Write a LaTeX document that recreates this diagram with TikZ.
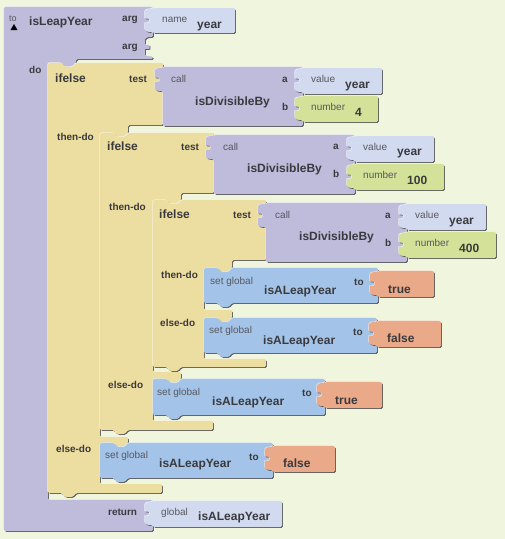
\documentclass[tikz,border=0pt]{standalone}
\usepackage{fontspec}
\setmainfont{Liberation Sans}
\definecolor{bgc}{RGB}{240,245,222}
\definecolor{procc}{RGB}{190,187,219}
\definecolor{yelc}{RGB}{236,221,160}
\definecolor{setc}{RGB}{163,196,232}
\definecolor{varc}{RGB}{209,218,238}
\definecolor{numc}{RGB}{212,225,152}
\definecolor{orc}{RGB}{234,169,136}
\definecolor{txt}{RGB}{58,58,62}
\definecolor{txts}{RGB}{88,88,96}
\newcommand\blk[2]{%
  \fill[black!65,xshift=0.9pt,yshift=-0.9pt,rounded corners=1.5pt] #2;
  \fill[#1!40!white,xshift=-0.6pt,yshift=0.6pt,rounded corners=1.5pt] #2;
  \fill[#1,rounded corners=1.5pt] #2;}
\newcommand\plugP[4]{(#1,#2) -- (#1+#3,#2) -- (#1+#3,#2+#4) -- (#1,#2+#4) -- (#1,#2+24) .. controls (#1-6,#2+24) and (#1-8,#2+23) .. (#1-8,#2+20) -- (#1-8,#2+16.5) .. controls (#1-8,#2+15) and (#1-3.5,#2+15) .. (#1-3.5,#2+12.7) .. controls (#1-3.5,#2+10.5) and (#1-8,#2+10.5) .. (#1-8,#2+9) -- (#1-8,#2+5) .. controls (#1-8,#2+2) and (#1-6,#2+1) .. (#1,#2+1) -- cycle}
\newcommand\stmtP[4]{(#1,#2) -- (#1+14,#2) -- (#1+17,#2+4) -- (#1+25,#2+4) -- (#1+28,#2) -- (#1+#3,#2) -- (#1+#3,#2+#4) -- (#1+28,#2+#4) -- (#1+25,#2+#4+4) -- (#1+17,#2+#4+4) -- (#1+14,#2+#4) -- (#1,#2+#4) -- cycle}
\tikzset{
  lbl/.style={font=\fontsize{10}{10}\selectfont\bfseries, text=txt, inner sep=0pt, anchor=base west},
  sml/.style={font=\fontsize{10}{10}\selectfont, text=txts, inner sep=0pt, anchor=base west},
  big/.style={font=\fontsize{12}{12}\selectfont\bfseries, text=txt, inner sep=0pt, anchor=base west},
}
\begin{document}
\begin{tikzpicture}[x=1pt,y=-1pt]
\fill[bgc] (0,0) rectangle (505,539);
\useasboundingbox (0,0) rectangle (505,539);
% procedure
\blk{procc}{(4,7) -- (153,7) -- (153,37) .. controls (147,37) and (145,38) .. (145,41) -- (145,43.5) .. controls (145,45) and (149.5,45) .. (149.5,47) .. controls (149.5,49) and (145,49) .. (145,50.5) -- (145,53) .. controls (145,56) and (147,56.5) .. (153,56.5) -- (153,59) -- (76,59) -- (76,63) -- (73,67) -- (65,67) -- (62,63) -- (48,63) -- (48,500) -- (153,500) -- (153,531) -- (4,531) -- cycle}
\blk{varc}{\plugP{153}{8}{82}{25}}
\blk{varc}{\plugP{153}{501}{129}{26}}
% ifelse 1
\blk{yelc}{(48,63) -- (62,63) -- (65,67) -- (73,67) -- (76,63) -- (163,63) -- (163,125) -- (128,125) -- (128,133) -- (125,137) -- (117,137) -- (114,133) -- (100,133) -- (100,437) -- (128,437) -- (128,443) -- (125,447) -- (117,447) -- (114,443) -- (100,443) -- (100,484) -- (162,484) -- (162,493) -- (76,493) -- (73,497) -- (65,497) -- (62,493) -- (48,493) -- cycle}
\blk{procc}{\plugP{163}{67}{140}{59}}
\blk{varc}{\plugP{303}{68}{79}{26}}
\blk{numc}{\plugP{303}{96}{75}{26}}
% ifelse 2
\blk{yelc}{(100,133) -- (114,133) -- (117,137) -- (125,137) -- (128,133) -- (214,133) -- (214,193) -- (181,193) -- (181,200) -- (178,204) -- (170,204) -- (167,200) -- (153,200) -- (153,372) -- (181,372) -- (181,379) -- (178,383) -- (170,383) -- (167,379) -- (153,379) -- (153,421) -- (213,421) -- (213,430) -- (128,430) -- (125,434) -- (117,434) -- (114,430) -- (100,430) -- cycle}
\blk{procc}{\plugP{214}{135}{141}{59}}
\blk{varc}{\plugP{355}{136}{79}{26}}
\blk{numc}{\plugP{355}{164}{89}{26}}
% ifelse 3
\blk{yelc}{(153,200) -- (167,200) -- (170,204) -- (178,204) -- (181,200) -- (266,200) -- (266,260) -- (232,260) -- (232,268) -- (229,272) -- (221,272) -- (218,268) -- (204,268) -- (204,310) -- (232,310) -- (232,318) -- (229,322) -- (221,322) -- (218,318) -- (204,318) -- (204,359) -- (266,359) -- (266,367) -- (181,367) -- (178,371) -- (170,371) -- (167,367) -- (153,367) -- cycle}
\blk{procc}{\plugP{266}{203}{141}{59}}
\blk{varc}{\plugP{407}{204}{79}{26}}
\blk{numc}{\plugP{407}{232}{89}{26}}
% set global blocks
\blk{setc}{\stmtP{204}{268}{174}{35}}
\blk{orc}{\plugP{378}{271}{56}{26}}
\blk{setc}{\stmtP{204}{318}{173}{35}}
\blk{orc}{\plugP{377}{321}{64}{26}}
\blk{setc}{\stmtP{153}{379}{172}{36}}
\blk{orc}{\plugP{325}{382}{57}{26}}
\blk{setc}{\stmtP{100}{443}{173}{35}}
\blk{orc}{\plugP{273}{446}{62}{26}}
% procedure texts
\node[sml,font=\fontsize{9}{9}\selectfont] (tto) at (9,21) {to};
\fill[black] (10.5,30) -- (17.5,30) -- (14,24) -- cycle;
\node[big] (tproc) at (29,25) {isLeapYear};
\node[lbl] (targa) at (122,21.5) {arg};
\node[lbl] (targb) at (122,49) {arg};
\node[lbl] (tdo) at (29,73) {do};
\node[lbl] (tret) at (108,515) {return};
\node[sml] (tname) at (162,22) {name};
\node[big] (tnamev) at (197,28) {year};
\node[sml] (tglob) at (161,515) {global};
\node[big] (tglobv) at (198,520) {isALeapYear};
% ifelse texts
\node[big] (if1) at (55,82) {ifelse};
\node[lbl] (test1) at (129,82) {test};
\node[lbl] (then1) at (57,140) {then-do};
\node[lbl] (else1) at (56,452) {else-do};
\node[big] (if2) at (107,150.5) {ifelse};
\node[lbl] (test2) at (181,150) {test};
\node[lbl] (then2) at (109,210) {then-do};
\node[lbl] (else2) at (108,388) {else-do};
\node[big] (if3) at (159,218) {ifelse};
\node[lbl] (test3) at (233,218) {test};
\node[lbl] (then3) at (161,278) {then-do};
\node[lbl] (else3) at (160,326) {else-do};
% call texts
\node[sml] (call1) at (171,82.5) {call};
\node[big] (div1) at (195,105.5) {isDivisibleBy};
\node[lbl] (a1) at (282,82) {a};
\node[lbl] (b1) at (282,110) {b};
\node[sml] (call2) at (223,150) {call};
\node[big] (div2) at (247,172) {isDivisibleBy};
\node[lbl] (a2) at (333,149.5) {a};
\node[lbl] (b2) at (333,177) {b};
\node[sml] (call3) at (275,218.5) {call};
\node[big] (div3) at (299,240.5) {isDivisibleBy};
\node[lbl] (a3) at (385,218) {a};
\node[lbl] (b3) at (385,246) {b};
% value texts
\node[sml] (v1) at (311,82) {value};
\node[big] (v1v) at (345,88) {year};
\node[sml] (n1) at (311,110) {number};
\node[big] (n1v) at (355,116.5) {4};
\node[sml] (v2) at (363,150) {value};
\node[big] (v2v) at (397,155) {year};
\node[sml] (n2) at (363,178) {number};
\node[big] (n2v) at (407,184) {100};
\node[sml] (v3) at (415,218) {value};
\node[big] (v3v) at (449,224) {year};
\node[sml] (n3) at (415,246) {number};
\node[big] (n3v) at (459,252) {400};
% set global texts
\node[sml] (s1) at (210,284) {set global};
\node[big] (s1v) at (264,294.5) {isALeapYear};
\node[lbl] (s1t) at (354,285.5) {to};
\node[big] (o1) at (388,293) {true};
\node[sml] (s2) at (209,333.5) {set global};
\node[big] (s2v) at (263,344) {isALeapYear};
\node[lbl] (s2t) at (353,335) {to};
\node[big] (o2) at (387,342.5) {false};
\node[sml] (s3) at (157,395) {set global};
\node[big] (s3v) at (212,405) {isALeapYear};
\node[lbl] (s3t) at (302,396.5) {to};
\node[big] (o3) at (335,404) {true};
\node[sml] (s4) at (105,458.3) {set global};
\node[big] (s4v) at (159,467.5) {isALeapYear};
\node[lbl] (s4t) at (249,460) {to};
\node[big] (o4) at (283,467.5) {false};
\end{tikzpicture}
\end{document}
